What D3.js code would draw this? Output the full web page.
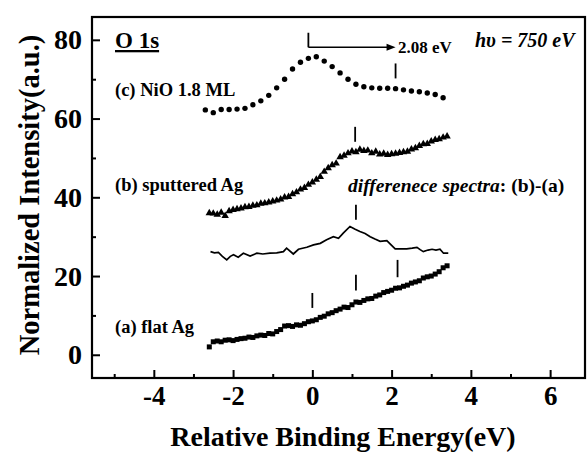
<!DOCTYPE html>
<html><head><meta charset="utf-8">
<script src="https://cdn.jsdelivr.net/npm/d3@7"></script>
<style>body{margin:0;background:#fff}svg{display:block}text{font-family:"Liberation Serif","Times New Roman",serif;font-weight:bold;fill:#000}</style>
</head><body>
<svg id="c" width="587" height="459"></svg>
<script>
// ---- data ----
const xTicksMajor = [-4, -2, 0, 2, 4, 6];
const xTicksMinor = [-5, -3, -1, 1, 3, 5];
const yTicksMajor = [0, 20, 40, 60, 80];
const yTicksMinor = [10, 30, 50, 70];

const cX = [-2.7,-2.5,-2.3,-2.1,-1.9,-1.7,-1.5,-1.3,-1.1,-0.9,-0.7,-0.5,-0.3,-0.1,0.1,0.3,0.5,0.7,0.9,1.1,1.3,1.5,1.7,1.9,2.1,2.3,2.5,2.7,2.9,3.1,3.3];
const cY = [62.2,61.5,62.3,62.3,62.4,62.6,63.5,64.5,65.9,67.8,70.0,72.6,74.3,75.3,75.7,74.6,73.2,71.6,70.0,68.7,68.1,67.8,67.7,67.7,67.6,67.3,67.0,66.8,66.5,66.1,65.3];

const bX = [-2.6,-2.5,-2.4,-2.3,-2.2,-2.1,-2.0,-1.9,-1.8,-1.7,-1.6,-1.5,-1.4,-1.3,-1.2,-1.1,-1.0,-0.9,-0.8,-0.7,-0.6,-0.5,-0.4,-0.3,-0.2,-0.1,0.0,0.1,0.2,0.3,0.4,0.5,0.6,0.7,0.8,0.9,1.0,1.1,1.2,1.3,1.4,1.5,1.6,1.7,1.8,1.9,2.0,2.1,2.2,2.3,2.4,2.5,2.6,2.7,2.8,2.9,3.0,3.1,3.2,3.3,3.4];
const bY = [36.0,35.9,35.6,36.1,35.3,36.5,36.8,37.0,37.2,37.5,37.6,37.9,38.0,38.4,38.5,38.7,39.0,39.2,39.5,40.0,40.1,40.8,41.3,42.0,42.4,43.2,43.8,44.5,45.2,46.5,47.4,48.2,48.6,50.2,50.6,51.2,51.7,51.5,52.1,51.8,51.9,51.2,51.6,50.9,51.1,50.8,51.0,51.1,51.3,51.5,51.6,52.2,52.5,53.1,53.5,53.6,54.2,54.6,54.8,55.2,55.5];

const dX = [-2.57,-2.47,-2.37,-2.27,-2.16,-2.07,-1.99,-1.87,-1.74,-1.57,-1.4,-1.25,-1.07,-0.9,-0.73,-0.65,-0.48,-0.35,-0.14,0.03,0.2,0.36,0.53,0.66,0.78,0.95,1.08,1.2,1.33,1.46,1.58,1.71,1.88,2.0,2.09,2.25,2.38,2.52,2.64,2.72,2.8,2.92,3.02,3.12,3.22,3.31,3.43];
const dY = [26.2,25.9,26.0,25.0,24.1,25.0,25.4,24.8,25.8,25.1,25.8,25.6,25.8,25.9,26.2,27.1,25.6,26.8,27.3,27.9,28.3,29.2,30.0,29.6,30.9,32.6,31.9,31.3,30.8,30.0,29.4,28.8,29.0,27.8,26.9,26.9,26.9,27.1,27.3,26.7,26.2,26.6,26.8,26.6,26.8,25.8,25.8];

const aX = bX;
const aY = [2.0,3.3,3.5,3.3,3.7,3.8,3.6,3.9,4.1,4.2,4.5,4.4,4.8,5.0,4.9,5.4,5.3,5.9,6.4,7.3,7.4,7.2,7.6,7.5,7.9,8.4,8.6,8.9,9.5,9.8,10.4,10.7,11.2,11.6,12.1,12.0,12.7,13.4,13.3,13.8,14.2,14.3,14.9,15.2,15.8,16.1,16.4,16.9,17.0,17.4,17.7,18.2,18.5,18.8,19.5,19.8,20.0,20.5,21.1,22.1,22.6];

// peak marker lines [x, yLow, yHigh]
const markX = [-0.1, 2.1, 1.08, 1.1, 0.0, 1.1, 2.15];
const markLo = [78.1, 70.2, 54.1, 34.3, 11.9, 16.3, 19.7];
const markHi = [81.8, 74.0, 57.9, 38.1, 15.7, 20.3, 24.1];
const arrowFrom = -0.1, arrowTo = 2.1, arrowY = 78.1;

// ---- chart ----
const svg = d3.select("#c");
const x = d3.scaleLinear().domain([-5.56, 6.88]).range([92, 585]);
const y = d3.scaleLinear().domain([-5.9, 85.8]).range([378, 17]);

// frame
svg.append("rect").attr("x", 92).attr("y", 17).attr("width", 493).attr("height", 361)
  .attr("fill", "none").attr("stroke", "#000").attr("stroke-width", 2.2);

function styleAxis(g){ g.select(".domain").remove(); g.selectAll("line").attr("stroke-width", 2); }
const fmt = d => String(d);
svg.append("g").attr("transform", "translate(0,378)")
  .call(d3.axisBottom(x).tickValues(xTicksMajor).tickSize(-8).tickPadding(8).tickFormat(fmt))
  .call(styleAxis).call(g => g.selectAll("text").attr("font-size", 27).attr("font-family", null));
svg.append("g").attr("transform", "translate(0,378)")
  .call(d3.axisBottom(x).tickValues(xTicksMinor).tickSize(-4).tickFormat(""))
  .call(styleAxis);
svg.append("g").attr("transform", "translate(92,0)")
  .call(d3.axisLeft(y).tickValues(yTicksMajor).tickSize(-8).tickPadding(10).tickFormat(fmt))
  .call(styleAxis).call(g => g.selectAll("text").attr("font-size", 28).attr("font-family", null));
svg.append("g").attr("transform", "translate(92,0)")
  .call(d3.axisLeft(y).tickValues(yTicksMinor).tickSize(-4).tickFormat(""))
  .call(styleAxis);

// (c) dots
svg.append("g").selectAll("circle").data(cX).join("circle")
  .attr("cx", (d) => x(d)).attr("cy", (d, i) => y(cY[i])).attr("r", 2.7).attr("fill", "#000");

// (b) triangles
svg.append("g").selectAll("path").data(bX).join("path")
  .attr("transform", (d, i) => `translate(${x(d)},${y(bY[i])})`)
  .attr("d", d3.symbol(d3.symbolTriangle, 24)).attr("fill", "#000");

// difference line
svg.append("path").datum(dX)
  .attr("d", d3.line().x(d => x(d)).y((d, i) => y(dY[i])))
  .attr("fill", "none").attr("stroke", "#000").attr("stroke-width", 1.7);

// (a) squares
svg.append("g").selectAll("rect").data(aX).join("rect")
  .attr("x", d => x(d) - 2.5).attr("y", (d, i) => y(aY[i]) - 2.5)
  .attr("width", 5).attr("height", 5).attr("fill", "#000");

// markers
svg.append("g").selectAll("line").data(markX).join("line")
  .attr("x1", d => x(d)).attr("x2", d => x(d))
  .attr("y1", (d, i) => y(markLo[i])).attr("y2", (d, i) => y(markHi[i]))
  .attr("stroke", "#000").attr("stroke-width", 1.8);
// arrow
svg.append("line").attr("x1", x(arrowFrom)).attr("x2", x(arrowTo) - 8)
  .attr("y1", y(arrowY)).attr("y2", y(arrowY)).attr("stroke", "#000").attr("stroke-width", 1.5);
svg.append("path")
  .attr("d", `M${x(arrowTo)},${y(arrowY)} l-9,-3.5 l0,7 z`).attr("fill", "#000");

// texts
svg.append("text").attr("x", 398).attr("y", 53).attr("font-size", 17).text("2.08 eV");
svg.append("text").attr("x", 475).attr("y", 47).attr("font-size", 20).attr("font-style", "italic").text("hυ = 750 eV");
svg.append("text").attr("x", 115).attr("y", 48).attr("font-size", 23).attr("text-decoration", "underline").text("O 1s");
svg.append("text").attr("x", 115).attr("y", 96).attr("font-size", 18.5).text("(c) NiO 1.8 ML");
svg.append("text").attr("x", 115).attr("y", 191).attr("font-size", 18.5).text("(b) sputtered Ag");
svg.append("text").attr("x", 115).attr("y", 333).attr("font-size", 18.5).text("(a) flat Ag");
const ds = svg.append("text").attr("x", 348).attr("y", 192).attr("font-size", 19.5);
ds.append("tspan").attr("font-style", "italic").text("differenece spectra");
ds.append("tspan").text(": (b)-(a)");

svg.append("text").attr("x", 343).attr("y", 446).attr("text-anchor", "middle").attr("font-size", 28)
  .text("Relative Binding Energy(eV)");
svg.append("text").attr("transform", "translate(39,195) rotate(-90)").attr("text-anchor", "middle")
  .attr("font-size", 28.5).text("Normalized Intensity(a.u.)");
</script>
</body></html>
